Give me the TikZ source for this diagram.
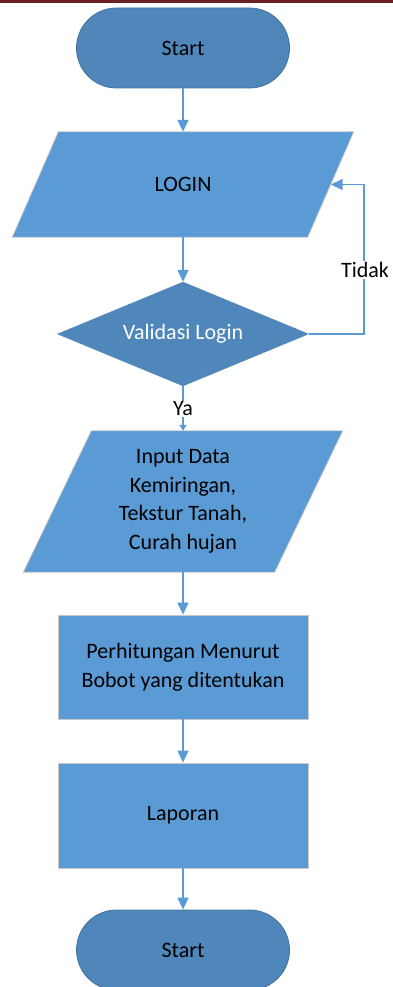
\documentclass[tikz,border=0pt]{standalone}
\usepackage{fontspec}
\setmainfont{Carlito}
\usetikzlibrary{shapes.misc,shapes.geometric,arrows.meta,backgrounds}
\definecolor{darkfill}{HTML}{4F87BA}
\definecolor{lightfill}{HTML}{5B9BD5}
\definecolor{termborder}{HTML}{41719C}
\definecolor{connblue}{HTML}{5B9BD5}
\definecolor{topbar}{HTML}{6B2121}
\definecolor{paraborder}{HTML}{C8C8C8}
\begin{document}
\begin{tikzpicture}[x=1pt,y=-1pt,font=\fontsize{22}{28.5}\selectfont,
  term/.style={rounded rectangle, fill=darkfill, draw=termborder, line width=0.8pt,
    minimum width=213pt, minimum height=80pt, inner sep=0pt},
  dec/.style={diamond, aspect=2.4, fill=darkfill, draw=darkfill, minimum width=251pt,
    minimum height=104pt, inner sep=0pt, text=white},
  procbox/.style={rectangle, fill=lightfill, draw=paraborder, line width=0.8pt,
    minimum width=250pt, align=center},
  iobox/.style={rectangle, inner sep=0pt, align=center},
  para/.style={fill=lightfill, draw=paraborder, line width=0.8pt},
  flow/.style={draw=connblue, line width=1.5pt, -{Triangle[width=11pt,length=12pt]}},
  flowsmall/.style={draw=connblue, line width=1.5pt, -{Triangle[width=7pt,length=6pt]}},
  lbl/.style={fill=white, inner sep=1pt}
]
\useasboundingbox (0,0) rectangle (393,987);
\clip (0,0) rectangle (393,987);
\fill[topbar] (0,0) rectangle (393,3.5);

\node[term] (start) at (183,48) {Start};
\node[iobox, minimum width=341pt, minimum height=105pt] (login) at (183,184.5) {LOGIN};
\node[dec] (val) at (183,334) {Validasi Login};
\node[iobox, minimum width=319pt, minimum height=141pt] (input) at (183,501.5)
  {Input Data\\Kemiringan,\\Tekstur Tanah,\\Curah hujan};
\node[procbox, minimum height=104pt] (proc) at (183,667)
  {Perhitungan Menurut\\Bobot yang ditentukan};
\node[procbox, minimum height=105pt] (lap) at (183,815.5) {Laporan};
\node[term] (stop) at (183,950) {Start};

\begin{scope}[on background layer]
  \draw[para] ([xshift=46pt]login.north west) -- (login.north east)
    -- ([xshift=-46pt]login.south east) -- (login.south west) -- cycle;
  \draw[para] ([xshift=68pt]input.north west) -- (input.north east)
    -- ([xshift=-68pt]input.south east) -- (input.south west) -- cycle;
\end{scope}

\coordinate (loginR) at ([xshift=-23pt]login.east);
\coordinate (loopx) at (364,0);

\draw[flow] (start.south) -- (login.north);
\draw[flow] (login.south) -- (val.north);
\draw[flow] (val.east) -- (val.east -| loopx) -- (loginR -| loopx) -- (loginR);
\node[lbl] (tidak) at (365,270) {Tidak};
\draw[flowsmall] (val.south) -- (input.north);
\node[lbl] (ya) at (183,409) {Ya};
\draw[flow] (input.south) -- (proc.north);
\draw[flow] (proc.south) -- (lap.north);
\draw[flow] (lap.south) -- (stop.north);
\end{tikzpicture}
\end{document}
